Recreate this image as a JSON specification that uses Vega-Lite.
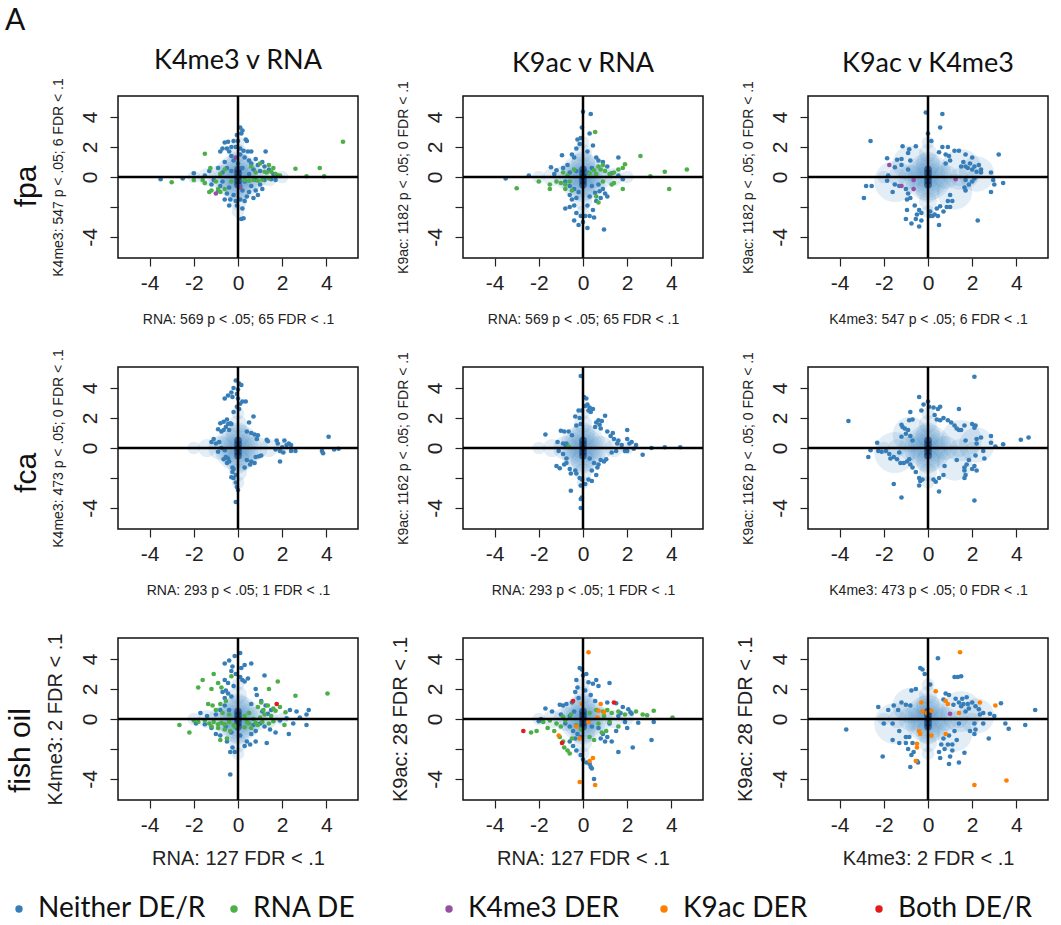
{
"$schema":"https://vega.github.io/schema/vega-lite/v6.json",
"background":"white",
"padding":{"left":5,"top":6,"right":4,"bottom":2},
"datasets":{
"cloud":[
{"x":0,"y":0,"s":1,"w":0},{"x":0,"y":0.25,"s":1,"w":0},{"x":0,"y":-0.25,"s":1,"w":0},{"x":0,"y":0.5,"s":1,"w":0},{"x":0,"y":-0.5,"s":1,"w":0},
{"x":0,"y":0,"s":2,"w":0},{"x":0,"y":0,"s":3,"w":0},{"x":0,"y":0,"s":4,"w":0},{"x":0,"y":0,"s":5,"w":0},{"x":0,"y":0,"s":6,"w":0},{"x":0,"y":0,"s":7,"w":0},{"x":0,"y":0,"s":8,"w":0},
{"x":0,"y":0.9,"s":4,"w":0},{"x":0,"y":-0.9,"s":4,"w":0},{"x":0,"y":1.6,"s":3,"w":0},{"x":0,"y":-1.6,"s":3,"w":0},{"x":0,"y":2.3,"s":2,"w":0},{"x":0,"y":-2.3,"s":2,"w":0},
{"x":0.8,"y":0,"s":4,"w":0},{"x":-0.8,"y":0,"s":4,"w":0},{"x":1.4,"y":0,"s":3,"w":0},{"x":-1.4,"y":0,"s":3,"w":0},{"x":2.0,"y":0,"s":2,"w":0},{"x":-2.0,"y":0,"s":2,"w":0},
{"x":1.5,"y":0.5,"s":7,"w":1},{"x":-1.5,"y":-0.3,"s":7,"w":1},{"x":1.2,"y":-1.0,"s":6,"w":1},{"x":-0.8,"y":0.9,"s":6,"w":1},{"x":2.2,"y":0.2,"s":6,"w":1}
],
"pts":[
{"p":1,"x":0.1,"y":3.3,"c":"N"},{"p":1,"x":0.2,"y":3.1,"c":"N"},{"p":1,"x":0.15,"y":2.9,"c":"N"},{"p":1,"x":-0.05,"y":2.8,"c":"N"},{"p":1,"x":0.35,"y":2.5,"c":"N"},{"p":1,"x":-0.6,"y":2.3,"c":"N"},{"p":1,"x":-0.45,"y":2.35,"c":"N"},{"p":1,"x":-0.2,"y":2.4,"c":"N"},{"p":1,"x":0.0,"y":2.4,"c":"N"},{"p":1,"x":0.4,"y":2.4,"c":"N"},
{"p":1,"x":-0.7,"y":1.9,"c":"N"},{"p":1,"x":-0.5,"y":1.9,"c":"N"},{"p":1,"x":-0.3,"y":2.0,"c":"N"},{"p":1,"x":-0.1,"y":2.0,"c":"N"},{"p":1,"x":0.1,"y":1.9,"c":"N"},{"p":1,"x":-0.8,"y":1.7,"c":"N"},{"p":1,"x":-0.4,"y":1.7,"c":"N"},{"p":1,"x":0.25,"y":1.75,"c":"N"},{"p":1,"x":0.45,"y":1.7,"c":"N"},{"p":1,"x":0.6,"y":1.7,"c":"N"},
{"p":1,"x":1.25,"y":1.7,"c":"N"},{"p":1,"x":-0.3,"y":1.4,"c":"N"},{"p":1,"x":0.1,"y":1.5,"c":"N"},{"p":1,"x":0.3,"y":1.3,"c":"N"},{"p":1,"x":0.5,"y":1.1,"c":"N"},{"p":1,"x":0.8,"y":1.2,"c":"N"},{"p":1,"x":1.1,"y":1.0,"c":"N"},{"p":1,"x":-0.6,"y":1.0,"c":"N"},{"p":1,"x":-0.2,"y":1.1,"c":"N"},{"p":1,"x":0.0,"y":0.9,"c":"N"},
{"p":1,"x":0.6,"y":0.9,"c":"N"},{"p":1,"x":0.9,"y":0.8,"c":"N"},{"p":1,"x":-0.9,"y":0.6,"c":"N"},{"p":1,"x":-0.5,"y":0.6,"c":"N"},{"p":1,"x":0.2,"y":0.6,"c":"N"},{"p":1,"x":0.7,"y":0.5,"c":"N"},{"p":1,"x":1.0,"y":0.4,"c":"N"},{"p":1,"x":1.4,"y":0.5,"c":"N"},{"p":1,"x":-1.3,"y":0.4,"c":"N"},{"p":1,"x":-0.7,"y":0.3,"c":"N"},
{"p":1,"x":1.6,"y":0.2,"c":"N"},{"p":1,"x":1.8,"y":0.1,"c":"N"},{"p":1,"x":-2.0,"y":0.25,"c":"N"},{"p":1,"x":-1.5,"y":0.1,"c":"N"},{"p":1,"x":-2.5,"y":-0.1,"c":"N"},{"p":1,"x":-3.5,"y":-0.15,"c":"N"},{"p":1,"x":-1.1,"y":-0.2,"c":"N"},{"p":1,"x":-0.7,"y":-0.3,"c":"N"},{"p":1,"x":0.3,"y":-0.3,"c":"N"},{"p":1,"x":0.8,"y":-0.2,"c":"N"},
{"p":1,"x":1.2,"y":-0.2,"c":"N"},{"p":1,"x":1.5,"y":-0.15,"c":"N"},{"p":1,"x":1.7,"y":-0.2,"c":"N"},{"p":1,"x":-1.2,"y":-0.5,"c":"N"},{"p":1,"x":-0.8,"y":-0.6,"c":"N"},{"p":1,"x":-0.4,"y":-0.7,"c":"N"},{"p":1,"x":0.1,"y":-0.6,"c":"N"},{"p":1,"x":0.6,"y":-0.6,"c":"N"},{"p":1,"x":1.0,"y":-0.5,"c":"N"},{"p":1,"x":-0.9,"y":-0.9,"c":"N"},
{"p":1,"x":-0.5,"y":-1.1,"c":"N"},{"p":1,"x":0.2,"y":-0.9,"c":"N"},{"p":1,"x":0.5,"y":-1.0,"c":"N"},{"p":1,"x":0.8,"y":-0.9,"c":"N"},{"p":1,"x":1.1,"y":-0.8,"c":"N"},{"p":1,"x":-0.2,"y":-1.2,"c":"N"},{"p":1,"x":0.4,"y":-1.3,"c":"N"},{"p":1,"x":0.9,"y":-1.2,"c":"N"},{"p":1,"x":-0.35,"y":-1.5,"c":"N"},{"p":1,"x":-0.1,"y":-1.6,"c":"N"},
{"p":1,"x":0.1,"y":-1.5,"c":"N"},{"p":1,"x":0.3,"y":-1.6,"c":"N"},{"p":1,"x":0.7,"y":-1.4,"c":"N"},{"p":1,"x":-0.4,"y":-1.9,"c":"N"},{"p":1,"x":-0.05,"y":-1.9,"c":"N"},{"p":1,"x":0.2,"y":-2.1,"c":"N"},{"p":1,"x":0.15,"y":-2.8,"c":"N"},{"p":1,"x":0.25,"y":-2.75,"c":"N"},{"p":1,"x":-0.6,"y":-1.5,"c":"N"},{"p":1,"x":1.2,"y":0.7,"c":"N"},
{"p":1,"x":0.5,"y":0.2,"c":"N"},{"p":1,"x":-0.3,"y":0.4,"c":"N"},
{"p":1,"x":4.75,"y":2.35,"c":"R"},{"p":1,"x":-1.5,"y":1.55,"c":"R"},{"p":1,"x":-1.25,"y":0.6,"c":"R"},{"p":1,"x":-0.6,"y":0.5,"c":"R"},{"p":1,"x":-0.8,"y":0.2,"c":"R"},{"p":1,"x":-1.0,"y":-0.3,"c":"R"},{"p":1,"x":-1.5,"y":-0.4,"c":"R"},{"p":1,"x":-2.0,"y":-0.2,"c":"R"},{"p":1,"x":-3.0,"y":-0.35,"c":"R"},{"p":1,"x":-1.6,"y":-0.2,"c":"R"},
{"p":1,"x":-1.2,"y":-0.9,"c":"R"},{"p":1,"x":-0.9,"y":-0.8,"c":"R"},{"p":1,"x":-0.6,"y":-0.8,"c":"R"},{"p":1,"x":-0.8,"y":-1.0,"c":"R"},{"p":1,"x":-1.3,"y":-1.0,"c":"R"},{"p":1,"x":-0.3,"y":-0.3,"c":"R"},{"p":1,"x":0.3,"y":-0.2,"c":"R"},{"p":1,"x":0.5,"y":-0.25,"c":"R"},{"p":1,"x":0.7,"y":-0.2,"c":"R"},{"p":1,"x":0.9,"y":-0.25,"c":"R"},
{"p":1,"x":1.1,"y":-0.2,"c":"R"},{"p":1,"x":1.3,"y":0.3,"c":"R"},{"p":1,"x":1.5,"y":0.35,"c":"R"},{"p":1,"x":1.6,"y":0.6,"c":"R"},{"p":1,"x":1.7,"y":0.2,"c":"R"},{"p":1,"x":1.9,"y":0.1,"c":"R"},{"p":1,"x":1.4,"y":0.8,"c":"R"},{"p":1,"x":1.0,"y":0.9,"c":"R"},{"p":1,"x":0.6,"y":0.7,"c":"R"},{"p":1,"x":2.6,"y":0.55,"c":"R"},
{"p":1,"x":3.1,"y":0.05,"c":"R"},{"p":1,"x":3.7,"y":0.6,"c":"R"},{"p":1,"x":3.9,"y":0.05,"c":"R"},{"p":1,"x":1.2,"y":0.35,"c":"R"},{"p":1,"x":0.8,"y":0.3,"c":"R"},{"p":1,"x":1.4,"y":-0.1,"c":"R"},
{"p":1,"x":-0.1,"y":1.3,"c":"K4"},{"p":1,"x":-1.0,"y":-1.1,"c":"K4"},{"p":1,"x":0.1,"y":-0.7,"c":"K4"},

{"p":2,"x":0.0,"y":4.35,"c":"N"},{"p":2,"x":0.35,"y":4.2,"c":"N"},{"p":2,"x":-0.05,"y":3.3,"c":"N"},{"p":2,"x":0.3,"y":2.9,"c":"N"},{"p":2,"x":-0.1,"y":2.6,"c":"N"},{"p":2,"x":-0.25,"y":2.5,"c":"N"},{"p":2,"x":-0.15,"y":2.2,"c":"N"},{"p":2,"x":0.45,"y":2.1,"c":"N"},{"p":2,"x":-0.3,"y":1.9,"c":"N"},{"p":2,"x":0.2,"y":1.7,"c":"N"},
{"p":2,"x":-0.5,"y":1.5,"c":"N"},{"p":2,"x":-0.4,"y":1.3,"c":"N"},{"p":2,"x":0.6,"y":1.3,"c":"N"},{"p":2,"x":1.6,"y":1.3,"c":"N"},{"p":2,"x":-0.95,"y":1.45,"c":"N"},{"p":2,"x":-1.45,"y":0.65,"c":"N"},{"p":2,"x":-1.2,"y":0.45,"c":"N"},{"p":2,"x":-0.9,"y":0.6,"c":"N"},{"p":2,"x":-0.7,"y":0.8,"c":"N"},{"p":2,"x":0.7,"y":1.1,"c":"N"},
{"p":2,"x":0.9,"y":1.0,"c":"N"},{"p":2,"x":1.1,"y":0.7,"c":"N"},{"p":2,"x":0.4,"y":0.6,"c":"N"},{"p":2,"x":-0.6,"y":0.3,"c":"N"},{"p":2,"x":-0.3,"y":0.4,"c":"N"},{"p":2,"x":0.2,"y":0.3,"c":"N"},{"p":2,"x":1.3,"y":0.25,"c":"N"},{"p":2,"x":1.6,"y":0.1,"c":"N"},{"p":2,"x":1.8,"y":-0.15,"c":"N"},{"p":2,"x":-2.45,"y":0.1,"c":"N"},
{"p":2,"x":-3.5,"y":-0.1,"c":"N"},{"p":2,"x":-1.3,"y":0.2,"c":"N"},{"p":2,"x":-0.8,"y":-0.3,"c":"N"},{"p":2,"x":-0.6,"y":-0.6,"c":"N"},{"p":2,"x":-0.4,"y":-0.8,"c":"N"},{"p":2,"x":-0.2,"y":-1.0,"c":"N"},{"p":2,"x":0.4,"y":-0.6,"c":"N"},{"p":2,"x":0.7,"y":-0.5,"c":"N"},{"p":2,"x":0.9,"y":-0.8,"c":"N"},{"p":2,"x":1.0,"y":-1.1,"c":"N"},
{"p":2,"x":1.1,"y":-1.3,"c":"N"},{"p":2,"x":0.8,"y":-1.4,"c":"N"},{"p":2,"x":0.6,"y":-1.6,"c":"N"},{"p":2,"x":0.3,"y":-1.3,"c":"N"},{"p":2,"x":-0.6,"y":-1.2,"c":"N"},{"p":2,"x":-0.5,"y":-1.5,"c":"N"},{"p":2,"x":-0.4,"y":-1.9,"c":"N"},{"p":2,"x":-0.6,"y":-2.0,"c":"N"},{"p":2,"x":-0.3,"y":-2.4,"c":"N"},{"p":2,"x":-0.1,"y":-2.6,"c":"N"},
{"p":2,"x":0.1,"y":-2.6,"c":"N"},{"p":2,"x":0.3,"y":-2.6,"c":"N"},{"p":2,"x":-0.4,"y":-2.9,"c":"N"},{"p":2,"x":-0.2,"y":-3.2,"c":"N"},{"p":2,"x":0.0,"y":-3.0,"c":"N"},{"p":2,"x":0.2,"y":-3.4,"c":"N"},{"p":2,"x":0.5,"y":-2.7,"c":"N"},{"p":2,"x":0.95,"y":-3.5,"c":"N"},{"p":2,"x":-0.8,"y":-2.1,"c":"N"},{"p":2,"x":0.2,"y":-1.9,"c":"N"},
{"p":2,"x":0.45,"y":-2.2,"c":"N"},{"p":2,"x":-0.3,"y":-1.4,"c":"N"},{"p":2,"x":0.55,"y":-1.05,"c":"N"},{"p":2,"x":0.75,"y":-0.95,"c":"N"},
{"p":2,"x":0.55,"y":3.0,"c":"R"},{"p":2,"x":2.6,"y":1.4,"c":"R"},{"p":2,"x":1.9,"y":0.85,"c":"R"},{"p":2,"x":1.8,"y":0.6,"c":"R"},{"p":2,"x":1.4,"y":0.3,"c":"R"},{"p":2,"x":1.2,"y":0.2,"c":"R"},{"p":2,"x":1.0,"y":0.4,"c":"R"},{"p":2,"x":0.8,"y":0.5,"c":"R"},{"p":2,"x":0.5,"y":0.45,"c":"R"},{"p":2,"x":0.6,"y":0.2,"c":"R"},
{"p":2,"x":0.3,"y":0.25,"c":"R"},{"p":2,"x":0.9,"y":0.8,"c":"R"},{"p":2,"x":0.7,"y":0.7,"c":"R"},{"p":2,"x":1.6,"y":0.5,"c":"R"},{"p":2,"x":3.05,"y":0.05,"c":"R"},{"p":2,"x":3.7,"y":0.35,"c":"R"},{"p":2,"x":4.7,"y":0.5,"c":"R"},{"p":2,"x":3.9,"y":-0.8,"c":"R"},{"p":2,"x":1.8,"y":-0.8,"c":"R"},{"p":2,"x":1.4,"y":-0.4,"c":"R"},
{"p":2,"x":1.3,"y":-0.5,"c":"R"},{"p":2,"x":0.9,"y":-0.3,"c":"R"},{"p":2,"x":0.6,"y":-1.3,"c":"R"},{"p":2,"x":0.7,"y":-1.7,"c":"R"},{"p":2,"x":-0.4,"y":0.5,"c":"R"},{"p":2,"x":-0.6,"y":-0.3,"c":"R"},{"p":2,"x":-0.8,"y":-0.5,"c":"R"},{"p":2,"x":-1.0,"y":-0.4,"c":"R"},{"p":2,"x":-1.2,"y":-0.3,"c":"R"},{"p":2,"x":-1.5,"y":-0.5,"c":"R"},
{"p":2,"x":-1.5,"y":-0.8,"c":"R"},{"p":2,"x":-2.0,"y":-0.3,"c":"R"},{"p":2,"x":-3.0,"y":-0.75,"c":"R"},{"p":2,"x":-0.8,"y":-0.8,"c":"R"},{"p":2,"x":-0.5,"y":-0.9,"c":"R"},{"p":2,"x":-0.9,"y":0.3,"c":"R"},{"p":2,"x":-0.7,"y":0.1,"c":"R"},

{"p":3,"x":-0.1,"y":4.3,"c":"N"},{"p":3,"x":0.65,"y":4.2,"c":"N"},{"p":3,"x":0.55,"y":3.3,"c":"N"},{"p":3,"x":0.0,"y":2.9,"c":"N"},{"p":3,"x":0.15,"y":2.4,"c":"N"},{"p":3,"x":-2.6,"y":2.4,"c":"N"},{"p":3,"x":-1.15,"y":2.05,"c":"N"},{"p":3,"x":-0.85,"y":1.85,"c":"N"},{"p":3,"x":-0.55,"y":2.05,"c":"N"},{"p":3,"x":-0.9,"y":1.6,"c":"N"},
{"p":3,"x":0.5,"y":1.65,"c":"N"},{"p":3,"x":0.65,"y":2.0,"c":"N"},{"p":3,"x":0.9,"y":2.0,"c":"N"},{"p":3,"x":0.8,"y":1.5,"c":"N"},{"p":3,"x":0.95,"y":1.4,"c":"N"},{"p":3,"x":1.2,"y":1.75,"c":"N"},{"p":3,"x":1.4,"y":1.75,"c":"N"},{"p":3,"x":1.7,"y":1.5,"c":"N"},{"p":3,"x":2.0,"y":1.3,"c":"N"},{"p":3,"x":3.2,"y":1.5,"c":"N"},
{"p":3,"x":-1.85,"y":1.25,"c":"N"},{"p":3,"x":-1.4,"y":1.15,"c":"N"},{"p":3,"x":-1.2,"y":1.2,"c":"N"},{"p":3,"x":-0.8,"y":1.1,"c":"N"},{"p":3,"x":-1.5,"y":0.65,"c":"N"},{"p":3,"x":-0.9,"y":0.5,"c":"N"},{"p":3,"x":-1.2,"y":0.8,"c":"N"},{"p":3,"x":1.0,"y":1.1,"c":"N"},{"p":3,"x":0.8,"y":0.9,"c":"N"},{"p":3,"x":1.6,"y":1.0,"c":"N"},
{"p":3,"x":1.9,"y":0.9,"c":"N"},{"p":3,"x":1.7,"y":0.7,"c":"N"},{"p":3,"x":1.8,"y":0.6,"c":"N"},{"p":3,"x":2.0,"y":0.5,"c":"N"},{"p":3,"x":2.3,"y":0.8,"c":"N"},{"p":3,"x":2.4,"y":0.5,"c":"N"},{"p":3,"x":2.2,"y":0.35,"c":"N"},{"p":3,"x":2.1,"y":0.7,"c":"N"},{"p":3,"x":2.4,"y":0.3,"c":"N"},{"p":3,"x":1.5,"y":0.7,"c":"N"},
{"p":3,"x":2.85,"y":0.3,"c":"N"},{"p":3,"x":2.95,"y":-0.2,"c":"N"},{"p":3,"x":3.0,"y":-0.5,"c":"N"},{"p":3,"x":3.4,"y":-0.4,"c":"N"},{"p":3,"x":2.85,"y":-1.0,"c":"N"},{"p":3,"x":1.7,"y":-0.2,"c":"N"},{"p":3,"x":2.0,"y":-0.3,"c":"N"},{"p":3,"x":2.1,"y":-0.1,"c":"N"},{"p":3,"x":1.85,"y":-0.5,"c":"N"},{"p":3,"x":1.7,"y":-0.9,"c":"N"},
{"p":3,"x":1.65,"y":-0.7,"c":"N"},{"p":3,"x":-1.85,"y":-0.25,"c":"N"},{"p":3,"x":-1.8,"y":0.1,"c":"N"},{"p":3,"x":-2.9,"y":-1.4,"c":"N"},{"p":3,"x":-2.8,"y":-0.6,"c":"N"},{"p":3,"x":-2.55,"y":-0.6,"c":"N"},{"p":3,"x":-1.6,"y":-1.0,"c":"N"},{"p":3,"x":-1.5,"y":-0.5,"c":"N"},{"p":3,"x":-1.3,"y":-0.6,"c":"N"},{"p":3,"x":-1.0,"y":-0.8,"c":"N"},
{"p":3,"x":-0.9,"y":-1.1,"c":"N"},{"p":3,"x":-0.8,"y":-1.4,"c":"N"},{"p":3,"x":-0.95,"y":-1.5,"c":"N"},{"p":3,"x":-0.6,"y":-1.9,"c":"N"},{"p":3,"x":-0.4,"y":-2.2,"c":"N"},{"p":3,"x":-0.5,"y":-2.5,"c":"N"},{"p":3,"x":-0.3,"y":-2.4,"c":"N"},{"p":3,"x":-0.55,"y":-2.8,"c":"N"},{"p":3,"x":-0.75,"y":-3.1,"c":"N"},{"p":3,"x":-0.4,"y":-3.3,"c":"N"},
{"p":3,"x":-1.0,"y":-2.8,"c":"N"},{"p":3,"x":-0.95,"y":-2.2,"c":"N"},{"p":3,"x":-0.3,"y":-2.9,"c":"N"},{"p":3,"x":0.1,"y":-2.3,"c":"N"},{"p":3,"x":0.2,"y":-2.6,"c":"N"},{"p":3,"x":0.3,"y":-2.5,"c":"N"},{"p":3,"x":0.45,"y":-2.6,"c":"N"},{"p":3,"x":0.4,"y":-2.1,"c":"N"},{"p":3,"x":0.55,"y":-1.95,"c":"N"},{"p":3,"x":0.7,"y":-2.3,"c":"N"},
{"p":3,"x":0.9,"y":-1.6,"c":"N"},{"p":3,"x":1.1,"y":-1.6,"c":"N"},{"p":3,"x":1.0,"y":-2.0,"c":"N"},{"p":3,"x":0.85,"y":-2.0,"c":"N"},{"p":3,"x":1.0,"y":-1.2,"c":"N"},{"p":3,"x":0.5,"y":-3.2,"c":"N"},{"p":3,"x":2.25,"y":-2.9,"c":"N"},{"p":3,"x":0.1,"y":-2.6,"c":"N"},
{"p":3,"x":-1.75,"y":0.8,"c":"K4"},{"p":3,"x":-0.65,"y":-0.2,"c":"K4"},{"p":3,"x":-1.2,"y":-0.6,"c":"K4"},{"p":3,"x":-0.65,"y":-0.8,"c":"K4"},{"p":3,"x":1.25,"y":-0.15,"c":"K4"},

{"p":4,"x":-0.1,"y":4.5,"c":"N"},{"p":4,"x":0.05,"y":4.3,"c":"N"},{"p":4,"x":0.15,"y":4.2,"c":"N"},{"p":4,"x":-0.2,"y":4.0,"c":"N"},{"p":4,"x":0.0,"y":3.9,"c":"N"},{"p":4,"x":-0.3,"y":3.7,"c":"N"},{"p":4,"x":-0.05,"y":3.6,"c":"N"},{"p":4,"x":-0.45,"y":3.5,"c":"N"},{"p":4,"x":-0.25,"y":3.4,"c":"N"},{"p":4,"x":0.0,"y":3.3,"c":"N"},
{"p":4,"x":0.35,"y":3.1,"c":"N"},{"p":4,"x":0.2,"y":3.1,"c":"N"},{"p":4,"x":-0.6,"y":3.3,"c":"N"},{"p":4,"x":0.1,"y":2.95,"c":"N"},{"p":4,"x":-0.05,"y":2.75,"c":"N"},{"p":4,"x":0.05,"y":2.6,"c":"N"},{"p":4,"x":-0.2,"y":2.4,"c":"N"},{"p":4,"x":0.7,"y":2.1,"c":"N"},{"p":4,"x":0.5,"y":1.7,"c":"N"},{"p":4,"x":-0.5,"y":1.9,"c":"N"},
{"p":4,"x":-0.35,"y":1.65,"c":"N"},{"p":4,"x":-0.65,"y":1.75,"c":"N"},{"p":4,"x":-0.45,"y":1.6,"c":"N"},{"p":4,"x":-0.8,"y":1.65,"c":"N"},{"p":4,"x":-0.3,"y":1.6,"c":"N"},{"p":4,"x":-0.55,"y":1.4,"c":"N"},{"p":4,"x":-0.75,"y":1.1,"c":"N"},{"p":4,"x":-0.65,"y":1.2,"c":"N"},{"p":4,"x":-0.9,"y":1.25,"c":"N"},{"p":4,"x":-0.4,"y":1.2,"c":"N"},
{"p":4,"x":0.4,"y":1.1,"c":"N"},{"p":4,"x":0.6,"y":1.0,"c":"N"},{"p":4,"x":0.75,"y":0.9,"c":"N"},{"p":4,"x":0.9,"y":0.85,"c":"N"},{"p":4,"x":1.3,"y":0.55,"c":"N"},{"p":4,"x":0.85,"y":0.6,"c":"N"},{"p":4,"x":-1.1,"y":0.6,"c":"N"},{"p":4,"x":-1.2,"y":0.4,"c":"N"},{"p":4,"x":-1.0,"y":0.3,"c":"N"},{"p":4,"x":-0.85,"y":0.4,"c":"N"},
{"p":4,"x":-0.75,"y":0.0,"c":"N"},{"p":4,"x":1.35,"y":0.45,"c":"N"},{"p":4,"x":1.75,"y":0.5,"c":"N"},{"p":4,"x":1.8,"y":0.3,"c":"N"},{"p":4,"x":2.1,"y":0.5,"c":"N"},{"p":4,"x":2.2,"y":0.2,"c":"N"},{"p":4,"x":2.3,"y":0.3,"c":"N"},{"p":4,"x":2.4,"y":0.2,"c":"N"},{"p":4,"x":2.0,"y":0.05,"c":"N"},{"p":4,"x":1.7,"y":-0.1,"c":"N"},
{"p":4,"x":1.9,"y":-0.2,"c":"N"},{"p":4,"x":2.05,"y":-0.3,"c":"N"},{"p":4,"x":2.6,"y":-0.2,"c":"N"},{"p":4,"x":2.4,"y":-0.2,"c":"N"},{"p":4,"x":3.8,"y":-0.2,"c":"N"},{"p":4,"x":3.85,"y":-0.35,"c":"N"},{"p":4,"x":4.1,"y":0.75,"c":"N"},{"p":4,"x":4.35,"y":-0.1,"c":"N"},{"p":4,"x":4.55,"y":-0.05,"c":"N"},{"p":4,"x":-0.9,"y":-0.25,"c":"N"},
{"p":4,"x":-0.6,"y":-0.15,"c":"N"},{"p":4,"x":-0.55,"y":-0.6,"c":"N"},{"p":4,"x":-0.45,"y":-0.7,"c":"N"},{"p":4,"x":-0.65,"y":-0.75,"c":"N"},{"p":4,"x":-0.4,"y":-0.9,"c":"N"},{"p":4,"x":-0.5,"y":-1.0,"c":"N"},{"p":4,"x":0.4,"y":-0.8,"c":"N"},{"p":4,"x":0.6,"y":-0.9,"c":"N"},{"p":4,"x":0.8,"y":-0.6,"c":"N"},{"p":4,"x":0.95,"y":-0.55,"c":"N"},
{"p":4,"x":1.05,"y":-0.5,"c":"N"},{"p":4,"x":0.75,"y":-1.0,"c":"N"},{"p":4,"x":0.3,"y":-1.3,"c":"N"},{"p":4,"x":0.55,"y":-1.1,"c":"N"},{"p":4,"x":1.9,"y":-0.9,"c":"N"},{"p":4,"x":-0.25,"y":-1.3,"c":"N"},{"p":4,"x":-0.25,"y":-1.6,"c":"N"},{"p":4,"x":-0.1,"y":-1.8,"c":"N"},{"p":4,"x":-0.2,"y":-2.0,"c":"N"},{"p":4,"x":-0.3,"y":-1.95,"c":"N"},
{"p":4,"x":-0.1,"y":-2.3,"c":"N"},{"p":4,"x":-0.05,"y":-2.6,"c":"N"},{"p":4,"x":0.0,"y":-2.8,"c":"N"},{"p":4,"x":-0.1,"y":-3.6,"c":"N"},{"p":4,"x":-0.2,"y":-1.4,"c":"N"},

{"p":5,"x":-0.1,"y":4.8,"c":"N"},{"p":5,"x":0.05,"y":3.4,"c":"N"},{"p":5,"x":0.15,"y":3.3,"c":"N"},{"p":5,"x":0.2,"y":2.9,"c":"N"},{"p":5,"x":0.1,"y":2.8,"c":"N"},{"p":5,"x":0.3,"y":2.7,"c":"N"},{"p":5,"x":0.45,"y":2.6,"c":"N"},{"p":5,"x":0.25,"y":2.5,"c":"N"},{"p":5,"x":0.35,"y":2.4,"c":"N"},{"p":5,"x":-0.2,"y":2.5,"c":"N"},
{"p":5,"x":-0.05,"y":2.5,"c":"N"},{"p":5,"x":-0.35,"y":2.1,"c":"N"},{"p":5,"x":-0.15,"y":2.0,"c":"N"},{"p":5,"x":0.7,"y":1.85,"c":"N"},{"p":5,"x":0.85,"y":1.8,"c":"N"},{"p":5,"x":0.6,"y":1.7,"c":"N"},{"p":5,"x":0.75,"y":1.55,"c":"N"},{"p":5,"x":1.0,"y":2.15,"c":"N"},{"p":5,"x":0.55,"y":1.4,"c":"N"},{"p":5,"x":0.8,"y":1.3,"c":"N"},
{"p":5,"x":-0.3,"y":1.5,"c":"N"},{"p":5,"x":-0.1,"y":1.6,"c":"N"},{"p":5,"x":1.1,"y":1.1,"c":"N"},{"p":5,"x":1.35,"y":1.0,"c":"N"},{"p":5,"x":1.25,"y":0.8,"c":"N"},{"p":5,"x":1.4,"y":0.6,"c":"N"},{"p":5,"x":1.55,"y":0.3,"c":"N"},{"p":5,"x":1.6,"y":0.5,"c":"N"},{"p":5,"x":1.75,"y":0.2,"c":"N"},{"p":5,"x":2.0,"y":1.2,"c":"N"},
{"p":5,"x":2.0,"y":0.6,"c":"N"},{"p":5,"x":2.2,"y":0.4,"c":"N"},{"p":5,"x":2.1,"y":0.3,"c":"N"},{"p":5,"x":2.4,"y":0.2,"c":"N"},{"p":5,"x":2.3,"y":-0.05,"c":"N"},{"p":5,"x":2.0,"y":-0.2,"c":"N"},{"p":5,"x":1.9,"y":-0.2,"c":"N"},{"p":5,"x":2.7,"y":-0.45,"c":"N"},{"p":5,"x":1.5,"y":-0.2,"c":"N"},{"p":5,"x":1.3,"y":-0.3,"c":"N"},
{"p":5,"x":3.1,"y":0.0,"c":"N"},{"p":5,"x":3.7,"y":0.05,"c":"N"},{"p":5,"x":4.4,"y":0.05,"c":"N"},{"p":5,"x":-1.7,"y":0.9,"c":"N"},{"p":5,"x":-1.0,"y":1.15,"c":"N"},{"p":5,"x":-0.85,"y":1.1,"c":"N"},{"p":5,"x":-0.65,"y":1.1,"c":"N"},{"p":5,"x":-0.5,"y":0.85,"c":"N"},{"p":5,"x":-1.15,"y":0.4,"c":"N"},{"p":5,"x":-0.9,"y":0.3,"c":"N"},
{"p":5,"x":-0.75,"y":0.3,"c":"N"},{"p":5,"x":-0.8,"y":0.2,"c":"N"},{"p":5,"x":-1.1,"y":-0.2,"c":"N"},{"p":5,"x":-0.9,"y":-0.4,"c":"N"},{"p":5,"x":-0.75,"y":-0.7,"c":"N"},{"p":5,"x":-1.2,"y":-1.2,"c":"N"},{"p":5,"x":-1.05,"y":-1.35,"c":"N"},{"p":5,"x":-0.85,"y":-1.1,"c":"N"},{"p":5,"x":-0.75,"y":-1.0,"c":"N"},{"p":5,"x":-0.6,"y":-1.4,"c":"N"},
{"p":5,"x":-0.55,"y":-1.7,"c":"N"},{"p":5,"x":-0.35,"y":-1.5,"c":"N"},{"p":5,"x":-0.3,"y":-1.7,"c":"N"},{"p":5,"x":-0.15,"y":-2.0,"c":"N"},{"p":5,"x":-0.05,"y":-2.1,"c":"N"},{"p":5,"x":-0.1,"y":-2.5,"c":"N"},{"p":5,"x":0.1,"y":-2.4,"c":"N"},{"p":5,"x":0.25,"y":-2.1,"c":"N"},{"p":5,"x":0.4,"y":-2.2,"c":"N"},{"p":5,"x":-0.55,"y":-2.85,"c":"N"},
{"p":5,"x":-0.05,"y":-3.3,"c":"N"},{"p":5,"x":-0.1,"y":-3.4,"c":"N"},{"p":5,"x":-0.1,"y":-4.0,"c":"N"},{"p":5,"x":0.5,"y":-1.0,"c":"N"},{"p":5,"x":0.7,"y":-1.1,"c":"N"},{"p":5,"x":0.95,"y":-0.9,"c":"N"},{"p":5,"x":0.8,"y":-0.8,"c":"N"},{"p":5,"x":1.05,"y":-0.75,"c":"N"},{"p":5,"x":0.65,"y":-1.3,"c":"N"},{"p":5,"x":0.6,"y":-1.8,"c":"N"},
{"p":5,"x":0.4,"y":-1.5,"c":"N"},{"p":5,"x":0.3,"y":-0.7,"c":"N"},
{"p":5,"x":-0.65,"y":0.1,"c":"R"},

{"p":6,"x":2.1,"y":4.75,"c":"N"},{"p":6,"x":-0.4,"y":3.4,"c":"N"},{"p":6,"x":-0.2,"y":2.9,"c":"N"},{"p":6,"x":0.0,"y":3.1,"c":"N"},{"p":6,"x":0.05,"y":2.75,"c":"N"},{"p":6,"x":0.25,"y":2.7,"c":"N"},{"p":6,"x":0.45,"y":2.6,"c":"N"},{"p":6,"x":0.55,"y":2.75,"c":"N"},{"p":6,"x":0.3,"y":2.2,"c":"N"},{"p":6,"x":0.4,"y":1.9,"c":"N"},
{"p":6,"x":0.7,"y":2.0,"c":"N"},{"p":6,"x":0.55,"y":1.85,"c":"N"},{"p":6,"x":-0.8,"y":2.4,"c":"N"},{"p":6,"x":-0.3,"y":2.5,"c":"N"},{"p":6,"x":1.4,"y":2.6,"c":"N"},{"p":6,"x":0.9,"y":1.85,"c":"N"},{"p":6,"x":1.05,"y":1.7,"c":"N"},{"p":6,"x":1.2,"y":1.5,"c":"N"},{"p":6,"x":1.3,"y":1.3,"c":"N"},{"p":6,"x":1.4,"y":1.2,"c":"N"},
{"p":6,"x":1.5,"y":1.2,"c":"N"},{"p":6,"x":1.65,"y":1.5,"c":"N"},{"p":6,"x":2.0,"y":1.6,"c":"N"},{"p":6,"x":2.15,"y":1.5,"c":"N"},{"p":6,"x":2.1,"y":1.35,"c":"N"},{"p":6,"x":1.7,"y":0.5,"c":"N"},{"p":6,"x":2.2,"y":0.6,"c":"N"},{"p":6,"x":2.2,"y":0.3,"c":"N"},{"p":6,"x":2.4,"y":0.7,"c":"N"},{"p":6,"x":2.85,"y":0.8,"c":"N"},
{"p":6,"x":2.85,"y":0.35,"c":"N"},{"p":6,"x":3.4,"y":0.25,"c":"N"},{"p":6,"x":3.05,"y":0.1,"c":"N"},{"p":6,"x":4.2,"y":0.55,"c":"N"},{"p":6,"x":4.55,"y":0.7,"c":"N"},{"p":6,"x":-3.6,"y":1.8,"c":"N"},{"p":6,"x":-1.2,"y":1.55,"c":"N"},{"p":6,"x":-1.15,"y":1.4,"c":"N"},{"p":6,"x":-1.05,"y":1.3,"c":"N"},{"p":6,"x":-0.9,"y":1.2,"c":"N"},
{"p":6,"x":-0.85,"y":1.85,"c":"N"},{"p":6,"x":-0.7,"y":1.9,"c":"N"},{"p":6,"x":-1.0,"y":0.95,"c":"N"},{"p":6,"x":-1.2,"y":0.75,"c":"N"},{"p":6,"x":-0.8,"y":0.8,"c":"N"},{"p":6,"x":-0.7,"y":0.5,"c":"N"},{"p":6,"x":-2.3,"y":0.35,"c":"N"},{"p":6,"x":-2.6,"y":-0.15,"c":"N"},{"p":6,"x":-2.7,"y":-0.6,"c":"N"},{"p":6,"x":-2.25,"y":-0.2,"c":"N"},
{"p":6,"x":-2.1,"y":-0.25,"c":"N"},{"p":6,"x":-1.9,"y":-0.2,"c":"N"},{"p":6,"x":-1.75,"y":-0.4,"c":"N"},{"p":6,"x":-1.7,"y":-0.7,"c":"N"},{"p":6,"x":-1.55,"y":-0.6,"c":"N"},{"p":6,"x":-1.4,"y":-0.75,"c":"N"},{"p":6,"x":-1.3,"y":-0.3,"c":"N"},{"p":6,"x":-1.25,"y":-1.0,"c":"N"},{"p":6,"x":-1.1,"y":-1.0,"c":"N"},{"p":6,"x":-0.95,"y":-0.9,"c":"N"},
{"p":6,"x":-0.85,"y":-0.75,"c":"N"},{"p":6,"x":-0.8,"y":-1.1,"c":"N"},{"p":6,"x":-0.7,"y":-1.3,"c":"N"},{"p":6,"x":-0.55,"y":-1.6,"c":"N"},{"p":6,"x":-0.4,"y":-2.0,"c":"N"},{"p":6,"x":-0.35,"y":-2.2,"c":"N"},{"p":6,"x":-0.25,"y":-2.1,"c":"N"},{"p":6,"x":-0.4,"y":-2.5,"c":"N"},{"p":6,"x":-1.55,"y":-2.4,"c":"N"},{"p":6,"x":-1.2,"y":-3.3,"c":"N"},
{"p":6,"x":0.25,"y":-2.1,"c":"N"},{"p":6,"x":0.35,"y":-2.25,"c":"N"},{"p":6,"x":0.5,"y":-2.0,"c":"N"},{"p":6,"x":0.7,"y":-1.8,"c":"N"},{"p":6,"x":0.5,"y":-2.9,"c":"N"},{"p":6,"x":0.75,"y":-1.2,"c":"N"},{"p":6,"x":1.3,"y":-0.8,"c":"N"},{"p":6,"x":1.65,"y":-1.3,"c":"N"},{"p":6,"x":1.65,"y":-1.5,"c":"N"},{"p":6,"x":1.7,"y":-1.8,"c":"N"},
{"p":6,"x":1.65,"y":-2.0,"c":"N"},{"p":6,"x":1.85,"y":-0.8,"c":"N"},{"p":6,"x":2.0,"y":-1.4,"c":"N"},{"p":6,"x":2.1,"y":-1.2,"c":"N"},{"p":6,"x":2.2,"y":-1.5,"c":"N"},{"p":6,"x":2.15,"y":-0.5,"c":"N"},{"p":6,"x":2.5,"y":-0.2,"c":"N"},{"p":6,"x":2.55,"y":-0.7,"c":"N"},{"p":6,"x":2.1,"y":-3.5,"c":"N"},{"p":6,"x":1.75,"y":-1.1,"c":"N"},

{"p":7,"x":0.1,"y":4.4,"c":"N"},{"p":7,"x":-0.15,"y":4.2,"c":"N"},{"p":7,"x":-0.4,"y":3.9,"c":"N"},{"p":7,"x":-0.6,"y":3.7,"c":"N"},{"p":7,"x":-0.25,"y":3.5,"c":"N"},{"p":7,"x":0.15,"y":3.4,"c":"N"},{"p":7,"x":0.3,"y":3.6,"c":"N"},{"p":7,"x":0.6,"y":3.7,"c":"N"},{"p":7,"x":-0.3,"y":3.2,"c":"N"},{"p":7,"x":-0.1,"y":3.0,"c":"N"},
{"p":7,"x":0.1,"y":2.8,"c":"N"},{"p":7,"x":0.2,"y":2.6,"c":"N"},{"p":7,"x":0.3,"y":2.5,"c":"N"},{"p":7,"x":0.45,"y":2.7,"c":"N"},{"p":7,"x":-0.6,"y":2.6,"c":"N"},{"p":7,"x":-0.45,"y":2.4,"c":"N"},{"p":7,"x":-0.2,"y":2.2,"c":"N"},{"p":7,"x":-0.55,"y":1.9,"c":"N"},{"p":7,"x":-0.7,"y":1.8,"c":"N"},{"p":7,"x":-0.45,"y":1.7,"c":"N"},
{"p":7,"x":-0.3,"y":1.5,"c":"N"},{"p":7,"x":-0.6,"y":1.4,"c":"N"},{"p":7,"x":1.2,"y":2.9,"c":"N"},{"p":7,"x":0.8,"y":2.0,"c":"N"},{"p":7,"x":0.85,"y":1.6,"c":"N"},{"p":7,"x":1.05,"y":1.2,"c":"N"},{"p":7,"x":1.25,"y":0.9,"c":"N"},{"p":7,"x":1.5,"y":0.6,"c":"N"},{"p":7,"x":1.1,"y":0.5,"c":"N"},{"p":7,"x":1.35,"y":0.35,"c":"N"},
{"p":7,"x":-1.7,"y":0.4,"c":"N"},{"p":7,"x":-1.4,"y":0.2,"c":"N"},{"p":7,"x":-1.0,"y":0.3,"c":"N"},{"p":7,"x":-0.8,"y":0.6,"c":"N"},{"p":7,"x":-0.6,"y":0.9,"c":"N"},{"p":7,"x":-0.4,"y":0.6,"c":"N"},{"p":7,"x":2.35,"y":0.6,"c":"N"},{"p":7,"x":2.65,"y":0.5,"c":"N"},{"p":7,"x":3.2,"y":0.6,"c":"N"},{"p":7,"x":3.1,"y":0.3,"c":"N"},
{"p":7,"x":2.8,"y":0.1,"c":"N"},{"p":7,"x":2.2,"y":0.05,"c":"N"},{"p":7,"x":1.9,"y":-0.1,"c":"N"},{"p":7,"x":2.5,"y":-0.3,"c":"N"},{"p":7,"x":3.1,"y":-0.4,"c":"N"},{"p":7,"x":2.3,"y":-1.0,"c":"N"},{"p":7,"x":1.7,"y":-0.9,"c":"N"},{"p":7,"x":1.45,"y":-0.7,"c":"N"},{"p":7,"x":1.2,"y":-0.5,"c":"N"},{"p":7,"x":1.0,"y":-0.3,"c":"N"},
{"p":7,"x":0.8,"y":-0.8,"c":"N"},{"p":7,"x":0.6,"y":-1.0,"c":"N"},{"p":7,"x":0.4,"y":-1.5,"c":"N"},{"p":7,"x":0.55,"y":-1.7,"c":"N"},{"p":7,"x":0.3,"y":-1.8,"c":"N"},{"p":7,"x":0.8,"y":-1.5,"c":"N"},{"p":7,"x":1.3,"y":-1.6,"c":"N"},{"p":7,"x":-1.9,"y":-0.3,"c":"N"},{"p":7,"x":-1.5,"y":-0.35,"c":"N"},{"p":7,"x":-1.2,"y":-0.6,"c":"N"},
{"p":7,"x":-1.0,"y":-1.0,"c":"N"},{"p":7,"x":-0.8,"y":-1.1,"c":"N"},{"p":7,"x":-0.55,"y":-0.5,"c":"N"},{"p":7,"x":-0.3,"y":-0.9,"c":"N"},{"p":7,"x":-0.5,"y":-1.5,"c":"N"},{"p":7,"x":-0.25,"y":-1.9,"c":"N"},{"p":7,"x":-0.35,"y":-2.2,"c":"N"},{"p":7,"x":-0.15,"y":-2.2,"c":"N"},{"p":7,"x":-0.35,"y":-3.7,"c":"N"},{"p":7,"x":0.1,"y":-1.1,"c":"N"},
{"p":7,"x":-0.1,"y":-0.5,"c":"N"},{"p":7,"x":0.7,"y":-0.4,"c":"N"},{"p":7,"x":0.6,"y":1.0,"c":"N"},
{"p":7,"x":-1.1,"y":3.0,"c":"R"},{"p":7,"x":-1.6,"y":2.6,"c":"R"},{"p":7,"x":-1.8,"y":2.1,"c":"R"},{"p":7,"x":-0.9,"y":2.4,"c":"R"},{"p":7,"x":-0.75,"y":2.1,"c":"R"},{"p":7,"x":-0.3,"y":2.85,"c":"R"},{"p":7,"x":1.4,"y":2.0,"c":"R"},{"p":7,"x":1.8,"y":2.5,"c":"R"},{"p":7,"x":2.6,"y":1.55,"c":"R"},{"p":7,"x":4.05,"y":1.7,"c":"R"},
{"p":7,"x":-1.2,"y":2.0,"c":"R"},{"p":7,"x":-1.35,"y":1.0,"c":"R"},{"p":7,"x":-1.15,"y":0.9,"c":"R"},{"p":7,"x":-0.8,"y":1.0,"c":"R"},{"p":7,"x":-0.55,"y":1.2,"c":"R"},{"p":7,"x":-1.0,"y":0.6,"c":"R"},{"p":7,"x":-0.7,"y":0.4,"c":"R"},{"p":7,"x":-0.4,"y":0.3,"c":"R"},{"p":7,"x":0.3,"y":0.2,"c":"R"},{"p":7,"x":0.5,"y":0.4,"c":"R"},
{"p":7,"x":0.9,"y":0.8,"c":"R"},{"p":7,"x":1.15,"y":0.6,"c":"R"},{"p":7,"x":1.35,"y":0.9,"c":"R"},{"p":7,"x":1.6,"y":0.7,"c":"R"},{"p":7,"x":1.7,"y":0.55,"c":"R"},{"p":7,"x":1.9,"y":0.8,"c":"R"},{"p":7,"x":2.15,"y":0.45,"c":"R"},{"p":7,"x":1.5,"y":0.2,"c":"R"},{"p":7,"x":1.0,"y":0.1,"c":"R"},{"p":7,"x":0.7,"y":0.0,"c":"R"},
{"p":7,"x":0.5,"y":-0.3,"c":"R"},{"p":7,"x":0.8,"y":-0.25,"c":"R"},{"p":7,"x":1.1,"y":-0.2,"c":"R"},{"p":7,"x":1.4,"y":-0.3,"c":"R"},{"p":7,"x":1.6,"y":-0.15,"c":"R"},{"p":7,"x":2.1,"y":-0.4,"c":"R"},{"p":7,"x":-2.65,"y":-0.4,"c":"R"},{"p":7,"x":-2.2,"y":-0.9,"c":"R"},{"p":7,"x":-2.0,"y":-0.1,"c":"R"},{"p":7,"x":-1.8,"y":-0.2,"c":"R"},
{"p":7,"x":-1.5,"y":-0.1,"c":"R"},{"p":7,"x":-1.3,"y":-0.3,"c":"R"},{"p":7,"x":-1.1,"y":-0.2,"c":"R"},{"p":7,"x":-0.9,"y":-0.35,"c":"R"},{"p":7,"x":-0.75,"y":-0.25,"c":"R"},{"p":7,"x":-0.6,"y":-0.35,"c":"R"},{"p":7,"x":-0.4,"y":-0.2,"c":"R"},{"p":7,"x":-0.2,"y":-0.4,"c":"R"},{"p":7,"x":-1.2,"y":-0.5,"c":"R"},{"p":7,"x":-0.9,"y":-0.6,"c":"R"},
{"p":7,"x":-0.6,"y":-0.7,"c":"R"},{"p":7,"x":-0.5,"y":-1.3,"c":"R"},{"p":7,"x":-0.35,"y":-0.8,"c":"R"},{"p":7,"x":-0.15,"y":-0.5,"c":"R"},{"p":7,"x":0.3,"y":-0.55,"c":"R"},{"p":7,"x":0.4,"y":-0.2,"c":"R"},{"p":7,"x":0.9,"y":-0.4,"c":"R"},{"p":7,"x":-0.8,"y":-1.4,"c":"R"},{"p":7,"x":0.6,"y":-0.6,"c":"R"},{"p":7,"x":1.2,"y":0.3,"c":"R"},
{"p":7,"x":1.05,"y":1.1,"c":"R"},
{"p":7,"x":1.75,"y":1.0,"c":"B"},

{"p":8,"x":-0.15,"y":3.4,"c":"N"},{"p":8,"x":-0.05,"y":3.3,"c":"N"},{"p":8,"x":0.0,"y":2.9,"c":"N"},{"p":8,"x":0.15,"y":3.0,"c":"N"},{"p":8,"x":-0.3,"y":2.6,"c":"N"},{"p":8,"x":0.6,"y":2.6,"c":"N"},{"p":8,"x":0.25,"y":2.45,"c":"N"},{"p":8,"x":0.45,"y":2.35,"c":"N"},{"p":8,"x":0.7,"y":2.2,"c":"N"},{"p":8,"x":-0.25,"y":2.1,"c":"N"},
{"p":8,"x":1.2,"y":2.4,"c":"N"},{"p":8,"x":-0.35,"y":1.8,"c":"N"},{"p":8,"x":0.1,"y":1.9,"c":"N"},{"p":8,"x":0.35,"y":1.6,"c":"N"},{"p":8,"x":-0.2,"y":1.4,"c":"N"},{"p":8,"x":0.55,"y":1.2,"c":"N"},{"p":8,"x":1.1,"y":1.1,"c":"N"},{"p":8,"x":1.5,"y":1.05,"c":"N"},{"p":8,"x":-0.5,"y":1.1,"c":"N"},{"p":8,"x":-0.75,"y":1.0,"c":"N"},
{"p":8,"x":-0.9,"y":0.9,"c":"N"},{"p":8,"x":-1.05,"y":0.95,"c":"N"},{"p":8,"x":1.8,"y":0.8,"c":"N"},{"p":8,"x":2.05,"y":0.65,"c":"N"},{"p":8,"x":2.15,"y":0.45,"c":"N"},{"p":8,"x":1.7,"y":0.4,"c":"N"},{"p":8,"x":2.5,"y":-0.25,"c":"N"},{"p":8,"x":3.2,"y":-0.2,"c":"N"},{"p":8,"x":1.9,"y":-0.2,"c":"N"},{"p":8,"x":1.6,"y":0.2,"c":"N"},
{"p":8,"x":2.2,"y":0.35,"c":"N"},{"p":8,"x":2.0,"y":-0.6,"c":"N"},{"p":8,"x":-1.7,"y":0.7,"c":"N"},{"p":8,"x":-1.4,"y":0.5,"c":"N"},{"p":8,"x":-1.0,"y":0.3,"c":"N"},{"p":8,"x":-0.6,"y":0.2,"c":"N"},{"p":8,"x":-0.4,"y":0.5,"c":"N"},{"p":8,"x":-1.9,"y":0.0,"c":"N"},{"p":8,"x":-2.0,"y":-0.15,"c":"N"},{"p":8,"x":-0.8,"y":-0.3,"c":"N"},
{"p":8,"x":-0.6,"y":-0.5,"c":"N"},{"p":8,"x":-0.45,"y":-0.8,"c":"N"},{"p":8,"x":-0.25,"y":-1.0,"c":"N"},{"p":8,"x":-0.1,"y":-1.2,"c":"N"},{"p":8,"x":-0.35,"y":-1.3,"c":"N"},{"p":8,"x":-0.6,"y":-1.5,"c":"N"},{"p":8,"x":-0.45,"y":-1.8,"c":"N"},{"p":8,"x":-0.3,"y":-2.1,"c":"N"},{"p":8,"x":-0.1,"y":-2.4,"c":"N"},{"p":8,"x":0.0,"y":-2.7,"c":"N"},
{"p":8,"x":0.15,"y":-2.9,"c":"N"},{"p":8,"x":0.3,"y":-3.0,"c":"N"},{"p":8,"x":0.35,"y":-3.2,"c":"N"},{"p":8,"x":0.5,"y":-4.0,"c":"N"},{"p":8,"x":0.4,"y":-3.3,"c":"N"},{"p":8,"x":0.9,"y":-1.0,"c":"N"},{"p":8,"x":1.1,"y":-1.2,"c":"N"},{"p":8,"x":1.3,"y":-1.5,"c":"N"},{"p":8,"x":1.0,"y":-1.5,"c":"N"},{"p":8,"x":0.8,"y":-1.3,"c":"N"},
{"p":8,"x":1.5,"y":-0.8,"c":"N"},{"p":8,"x":1.6,"y":-2.2,"c":"N"},{"p":8,"x":2.25,"y":-1.9,"c":"N"},{"p":8,"x":3.1,"y":-1.4,"c":"N"},{"p":8,"x":0.7,"y":-0.6,"c":"N"},{"p":8,"x":0.4,"y":-0.5,"c":"N"},{"p":8,"x":1.2,"y":-0.3,"c":"N"},
{"p":8,"x":-1.8,"y":-0.2,"c":"R"},{"p":8,"x":-1.5,"y":-0.1,"c":"R"},{"p":8,"x":-2.1,"y":-0.8,"c":"R"},{"p":8,"x":-2.35,"y":-0.9,"c":"R"},{"p":8,"x":-1.6,"y":-0.6,"c":"R"},{"p":8,"x":-1.2,"y":-0.3,"c":"R"},{"p":8,"x":-1.0,"y":-0.5,"c":"R"},{"p":8,"x":-0.8,"y":-0.1,"c":"R"},{"p":8,"x":-1.3,"y":-0.8,"c":"R"},{"p":8,"x":-1.05,"y":-1.2,"c":"R"},
{"p":8,"x":-0.9,"y":-1.5,"c":"R"},{"p":8,"x":-0.85,"y":-1.9,"c":"R"},{"p":8,"x":-0.7,"y":-2.1,"c":"R"},{"p":8,"x":-0.6,"y":-2.3,"c":"R"},{"p":8,"x":-0.5,"y":-1.3,"c":"R"},{"p":8,"x":-0.3,"y":-0.4,"c":"R"},{"p":8,"x":0.3,"y":0.4,"c":"R"},{"p":8,"x":0.6,"y":0.6,"c":"R"},{"p":8,"x":0.9,"y":0.5,"c":"R"},{"p":8,"x":1.1,"y":0.6,"c":"R"},
{"p":8,"x":1.3,"y":0.4,"c":"R"},{"p":8,"x":1.6,"y":0.5,"c":"R"},{"p":8,"x":1.9,"y":0.3,"c":"R"},{"p":8,"x":2.4,"y":0.5,"c":"R"},{"p":8,"x":2.7,"y":0.3,"c":"R"},{"p":8,"x":2.9,"y":0.25,"c":"R"},{"p":8,"x":3.2,"y":0.55,"c":"R"},{"p":8,"x":4.05,"y":0.1,"c":"R"},{"p":8,"x":0.7,"y":-0.3,"c":"R"},{"p":8,"x":0.85,"y":-0.9,"c":"R"},
{"p":8,"x":1.05,"y":-0.8,"c":"R"},{"p":8,"x":0.5,"y":-1.4,"c":"R"},{"p":8,"x":0.3,"y":-1.2,"c":"R"},{"p":8,"x":1.2,"y":-0.2,"c":"R"},{"p":8,"x":1.6,"y":-0.5,"c":"R"},{"p":8,"x":0.95,"y":0.2,"c":"R"},{"p":8,"x":-0.1,"y":-0.7,"c":"R"},{"p":8,"x":-0.55,"y":0.3,"c":"R"},{"p":8,"x":-0.9,"y":0.15,"c":"R"},
{"p":8,"x":0.25,"y":4.45,"c":"K9"},{"p":8,"x":-0.15,"y":-4.2,"c":"K9"},{"p":8,"x":0.55,"y":-4.4,"c":"K9"},{"p":8,"x":0.3,"y":-2.8,"c":"K9"},{"p":8,"x":0.7,"y":0.55,"c":"K9"},{"p":8,"x":0.95,"y":0.45,"c":"K9"},{"p":8,"x":0.8,"y":1.0,"c":"K9"},{"p":8,"x":0.65,"y":0.1,"c":"K9"},{"p":8,"x":0.25,"y":-0.2,"c":"K9"},{"p":8,"x":-0.05,"y":1.0,"c":"K9"},
{"p":8,"x":-0.3,"y":-0.5,"c":"K9"},{"p":8,"x":-1.1,"y":-1.1,"c":"K9"},{"p":8,"x":0.45,"y":-2.6,"c":"K9"},{"p":8,"x":-0.15,"y":-1.3,"c":"K9"},
{"p":8,"x":-2.7,"y":-0.8,"c":"B"},{"p":8,"x":-0.45,"y":1.2,"c":"B"},{"p":8,"x":1.4,"y":1.1,"c":"B"},{"p":8,"x":-0.95,"y":-1.6,"c":"B"},

{"p":9,"x":0.45,"y":4.05,"c":"N"},{"p":9,"x":-0.35,"y":3.4,"c":"N"},{"p":9,"x":-0.25,"y":3.3,"c":"N"},{"p":9,"x":-0.15,"y":3.0,"c":"N"},{"p":9,"x":1.2,"y":2.8,"c":"N"},{"p":9,"x":1.35,"y":2.8,"c":"N"},{"p":9,"x":1.5,"y":2.85,"c":"N"},{"p":9,"x":0.1,"y":2.3,"c":"N"},{"p":9,"x":-0.55,"y":2.0,"c":"N"},{"p":9,"x":-0.75,"y":1.9,"c":"N"},
{"p":9,"x":0.8,"y":1.7,"c":"N"},{"p":9,"x":0.95,"y":1.6,"c":"N"},{"p":9,"x":1.25,"y":1.35,"c":"N"},{"p":9,"x":1.55,"y":1.35,"c":"N"},{"p":9,"x":1.75,"y":1.45,"c":"N"},{"p":9,"x":1.4,"y":1.1,"c":"N"},{"p":9,"x":1.6,"y":1.0,"c":"N"},{"p":9,"x":1.8,"y":1.0,"c":"N"},{"p":9,"x":2.0,"y":1.1,"c":"N"},{"p":9,"x":2.15,"y":0.85,"c":"N"},
{"p":9,"x":1.5,"y":0.85,"c":"N"},{"p":9,"x":1.85,"y":0.7,"c":"N"},{"p":9,"x":2.3,"y":0.65,"c":"N"},{"p":9,"x":2.5,"y":0.4,"c":"N"},{"p":9,"x":2.8,"y":0.35,"c":"N"},{"p":9,"x":3.3,"y":1.05,"c":"N"},{"p":9,"x":3.0,"y":0.2,"c":"N"},{"p":9,"x":2.35,"y":0.3,"c":"N"},{"p":9,"x":1.7,"y":0.5,"c":"N"},{"p":9,"x":1.15,"y":0.95,"c":"N"},
{"p":9,"x":0.7,"y":1.3,"c":"N"},{"p":9,"x":4.85,"y":0.6,"c":"N"},{"p":9,"x":4.4,"y":-0.4,"c":"N"},{"p":9,"x":3.5,"y":-0.3,"c":"N"},{"p":9,"x":3.65,"y":-0.65,"c":"N"},{"p":9,"x":2.1,"y":-0.3,"c":"N"},{"p":9,"x":2.5,"y":-0.3,"c":"N"},{"p":9,"x":2.15,"y":-0.7,"c":"N"},{"p":9,"x":1.9,"y":-0.8,"c":"N"},{"p":9,"x":2.1,"y":-1.0,"c":"N"},
{"p":9,"x":2.75,"y":-1.3,"c":"N"},{"p":9,"x":1.4,"y":-0.3,"c":"N"},{"p":9,"x":1.2,"y":-0.8,"c":"N"},{"p":9,"x":0.95,"y":-1.1,"c":"N"},{"p":9,"x":0.7,"y":-1.3,"c":"N"},{"p":9,"x":0.9,"y":-1.7,"c":"N"},{"p":9,"x":1.1,"y":-1.7,"c":"N"},{"p":9,"x":1.3,"y":-1.4,"c":"N"},{"p":9,"x":0.6,"y":-1.7,"c":"N"},{"p":9,"x":0.75,"y":-2.0,"c":"N"},
{"p":9,"x":0.5,"y":-2.2,"c":"N"},{"p":9,"x":0.55,"y":-2.6,"c":"N"},{"p":9,"x":1.0,"y":-2.5,"c":"N"},{"p":9,"x":1.1,"y":-2.1,"c":"N"},{"p":9,"x":1.65,"y":-2.25,"c":"N"},{"p":9,"x":1.4,"y":-2.9,"c":"N"},{"p":9,"x":0.95,"y":-3.0,"c":"N"},{"p":9,"x":-1.2,"y":1.1,"c":"N"},{"p":9,"x":-1.0,"y":0.95,"c":"N"},{"p":9,"x":-0.8,"y":0.9,"c":"N"},
{"p":9,"x":-1.35,"y":0.6,"c":"N"},{"p":9,"x":-1.55,"y":0.9,"c":"N"},{"p":9,"x":-1.8,"y":0.6,"c":"N"},{"p":9,"x":-2.25,"y":0.8,"c":"N"},{"p":9,"x":-3.7,"y":-0.7,"c":"N"},{"p":9,"x":-2.0,"y":-0.3,"c":"N"},{"p":9,"x":-1.6,"y":-0.3,"c":"N"},{"p":9,"x":-1.3,"y":-0.8,"c":"N"},{"p":9,"x":-1.6,"y":-1.4,"c":"N"},{"p":9,"x":-1.0,"y":-1.2,"c":"N"},
{"p":9,"x":-0.85,"y":-1.2,"c":"N"},{"p":9,"x":-1.0,"y":-1.6,"c":"N"},{"p":9,"x":-0.7,"y":-1.6,"c":"N"},{"p":9,"x":-0.9,"y":-2.0,"c":"N"},{"p":9,"x":-0.65,"y":-2.2,"c":"N"},{"p":9,"x":-0.75,"y":-2.4,"c":"N"},{"p":9,"x":-0.5,"y":-2.8,"c":"N"},{"p":9,"x":-0.45,"y":-2.9,"c":"N"},{"p":9,"x":-0.8,"y":-3.2,"c":"N"},{"p":9,"x":-2.05,"y":-2.5,"c":"N"},
{"p":9,"x":-1.3,"y":-1.6,"c":"N"},
{"p":9,"x":1.45,"y":4.45,"c":"K9"},{"p":9,"x":-0.3,"y":1.1,"c":"K9"},{"p":9,"x":-0.25,"y":0.5,"c":"K9"},{"p":9,"x":-0.05,"y":0.4,"c":"K9"},{"p":9,"x":0.15,"y":0.55,"c":"K9"},{"p":9,"x":0.35,"y":1.85,"c":"K9"},{"p":9,"x":0.8,"y":1.2,"c":"K9"},{"p":9,"x":0.9,"y":1.0,"c":"K9"},{"p":9,"x":1.4,"y":0.4,"c":"K9"},{"p":9,"x":2.35,"y":1.1,"c":"K9"},
{"p":9,"x":3.05,"y":0.9,"c":"K9"},{"p":9,"x":-0.4,"y":-0.8,"c":"K9"},{"p":9,"x":-0.35,"y":-1.0,"c":"K9"},{"p":9,"x":-0.5,"y":-1.65,"c":"K9"},{"p":9,"x":-0.5,"y":-1.9,"c":"K9"},{"p":9,"x":-0.55,"y":-2.8,"c":"K9"},{"p":9,"x":0.15,"y":-1.1,"c":"K9"},{"p":9,"x":0.8,"y":-1.0,"c":"K9"},{"p":9,"x":2.1,"y":-4.4,"c":"K9"},{"p":9,"x":3.55,"y":-4.1,"c":"K9"},
{"p":9,"x":1.0,"y":0.35,"c":"K4"}
]
},
"title":{"text":"A","anchor":"start","fontSize":30,"font":"Lato","fontWeight":"normal","color":"#111","offset":10},
"bounds":"flush",
"spacing":271,
"vconcat":[
{"bounds":"flush","spacing":105,
 "title":{"text":"fpa","orient":"left","fontSize":30,"font":"Liberation Sans","fontWeight":"normal","color":"#111","offset":8,"anchor":"middle"},
 "hconcat":[
 {"width":240,"height":162,"title":{"text":"K4me3 v RNA","fontSize":27,"font":"Lato","fontWeight":"normal","color":"#111","offset":3},
  "layer":[
  {"encoding":{
    "x":{"field":"x","type":"quantitative","scale":{"domain":[-5.43,5.43],"nice":false,"zero":false},"axis":{"title":"RNA: 569 p < .05; 65 FDR < .1","titleFontSize":14,"values":[-4,-2,0,2,4],"labelExpr":"datum.value<0?'-'+(-datum.value):''+datum.value"}},
    "y":{"field":"y","type":"quantitative","scale":{"domain":[-5.4,5.4],"nice":false,"zero":false},"axis":{"title":"K4me3: 547 p < .05; 6 FDR < .1","titleFontSize":14,"values":[-4,-2,0,2,4],"labelExpr":"datum.value==-2?'':datum.value<0?'-'+(-datum.value):''+datum.value"}}},
   "layer":[
    {"data":{"name":"cloud"},"transform":[{"filter":"datum.s>1 && datum.w==0"}],"mark":{"type":"circle","color":"#3f88c5","opacity":0.15,"clip":true},"encoding":{"size":{"field":"s","type":"quantitative","scale":{"type":"pow","exponent":2,"domain":[1,8],"range":[60,2200]},"legend":null}}},
    {"data":{"name":"cloud"},"transform":[{"filter":"datum.s==1"}],"mark":{"type":"circle","color":"#08306b","opacity":0.55},"encoding":{"size":{"field":"s","type":"quantitative","scale":{"type":"pow","exponent":2,"domain":[1,8],"range":[60,2200]},"legend":null}}},
    {"data":{"name":"pts"},"transform":[{"filter":"datum.p==1"}],"mark":{"type":"circle","size":22,"opacity":1},"encoding":{"color":{"field":"c","type":"nominal","scale":{"domain":["N","R","K4","K9","B"],"range":["#377EB8","#4DAF4A","#984EA3","#FF7F00","#E41A1C"]},"legend":{"orient":"none","legendX":-113,"legendY":799,"direction":"horizontal","columns":5,"title":null,"gridAlign":"all","columnPadding":14,"symbolType":"circle","symbolSize":55,"symbolStrokeWidth":0,"labelFont":"Lato","labelFontSize":28,"labelColor":"#111","labelOffset":5,"labelLimit":400,"labelExpr":"datum.label=='N'?'Neither DE/R':datum.label=='R'?'RNA DE':datum.label=='K4'?'K4me3 DER':datum.label=='K9'?'K9ac DER':'Both DE/R'"}}}}
   ]},
  {"data":{"values":[{}]},"mark":{"type":"rule","color":"#000","strokeWidth":2.5},"encoding":{"x":{"datum":0}}},
  {"data":{"values":[{}]},"mark":{"type":"rule","color":"#000","strokeWidth":2.5},"encoding":{"y":{"datum":0}}}
  ]},
 {"width":240,"height":162,"title":{"text":"K9ac v RNA","fontSize":27,"font":"Lato","fontWeight":"normal","color":"#111","offset":3},
  "layer":[
  {"encoding":{
    "x":{"field":"x","type":"quantitative","scale":{"domain":[-5.43,5.43],"nice":false,"zero":false},"axis":{"title":"RNA: 569 p < .05; 65 FDR < .1","titleFontSize":14,"values":[-4,-2,0,2,4],"labelExpr":"datum.value<0?'-'+(-datum.value):''+datum.value"}},
    "y":{"field":"y","type":"quantitative","scale":{"domain":[-5.4,5.4],"nice":false,"zero":false},"axis":{"title":"K9ac: 1182 p < .05; 0 FDR < .1","titleFontSize":14,"values":[-4,-2,0,2,4],"labelExpr":"datum.value==-2?'':datum.value<0?'-'+(-datum.value):''+datum.value"}}},
   "layer":[
    {"data":{"name":"cloud"},"transform":[{"filter":"datum.s>1 && datum.w==0"}],"mark":{"type":"circle","color":"#3f88c5","opacity":0.15,"clip":true},"encoding":{"size":{"field":"s","type":"quantitative","scale":{"type":"pow","exponent":2,"domain":[1,8],"range":[60,2200]},"legend":null}}},
    {"data":{"name":"cloud"},"transform":[{"filter":"datum.s==1"}],"mark":{"type":"circle","color":"#08306b","opacity":0.55},"encoding":{"size":{"field":"s","type":"quantitative","scale":{"type":"pow","exponent":2,"domain":[1,8],"range":[60,2200]},"legend":null}}},
    {"data":{"name":"pts"},"transform":[{"filter":"datum.p==2"}],"mark":{"type":"circle","size":22,"opacity":1},"encoding":{"color":{"field":"c","type":"nominal","scale":{"domain":["N","R","K4","K9","B"],"range":["#377EB8","#4DAF4A","#984EA3","#FF7F00","#E41A1C"]}}}}
   ]},
  {"data":{"values":[{}]},"mark":{"type":"rule","color":"#000","strokeWidth":2.5},"encoding":{"x":{"datum":0}}},
  {"data":{"values":[{}]},"mark":{"type":"rule","color":"#000","strokeWidth":2.5},"encoding":{"y":{"datum":0}}}
  ]},
 {"width":240,"height":162,"title":{"text":"K9ac v K4me3","fontSize":27,"font":"Lato","fontWeight":"normal","color":"#111","offset":3},
  "layer":[
  {"encoding":{
    "x":{"field":"x","type":"quantitative","scale":{"domain":[-5.43,5.43],"nice":false,"zero":false},"axis":{"title":"K4me3: 547 p < .05; 6 FDR < .1","titleFontSize":14,"values":[-4,-2,0,2,4],"labelExpr":"datum.value<0?'-'+(-datum.value):''+datum.value"}},
    "y":{"field":"y","type":"quantitative","scale":{"domain":[-5.4,5.4],"nice":false,"zero":false},"axis":{"title":"K9ac: 1182 p < .05; 0 FDR < .1","titleFontSize":14,"values":[-4,-2,0,2,4],"labelExpr":"datum.value==-2?'':datum.value<0?'-'+(-datum.value):''+datum.value"}}},
   "layer":[
    {"data":{"name":"cloud"},"transform":[{"filter":"datum.s>1"}],"mark":{"type":"circle","color":"#3f88c5","opacity":0.15,"clip":true},"encoding":{"size":{"field":"s","type":"quantitative","scale":{"type":"pow","exponent":2,"domain":[1,8],"range":[60,2200]},"legend":null}}},
    {"data":{"name":"cloud"},"transform":[{"filter":"datum.s==1"}],"mark":{"type":"circle","color":"#08306b","opacity":0.55},"encoding":{"size":{"field":"s","type":"quantitative","scale":{"type":"pow","exponent":2,"domain":[1,8],"range":[60,2200]},"legend":null}}},
    {"data":{"name":"pts"},"transform":[{"filter":"datum.p==3"}],"mark":{"type":"circle","size":22,"opacity":1},"encoding":{"color":{"field":"c","type":"nominal","scale":{"domain":["N","R","K4","K9","B"],"range":["#377EB8","#4DAF4A","#984EA3","#FF7F00","#E41A1C"]}}}}
   ]},
  {"data":{"values":[{}]},"mark":{"type":"rule","color":"#000","strokeWidth":2.5},"encoding":{"x":{"datum":0}}},
  {"data":{"values":[{}]},"mark":{"type":"rule","color":"#000","strokeWidth":2.5},"encoding":{"y":{"datum":0}}}
  ]}
 ]},
{"bounds":"flush","spacing":105,
 "title":{"text":"fca","orient":"left","fontSize":30,"font":"Liberation Sans","fontWeight":"normal","color":"#111","offset":8,"anchor":"middle"},
 "hconcat":[
 {"width":240,"height":162,
  "layer":[
  {"encoding":{
    "x":{"field":"x","type":"quantitative","scale":{"domain":[-5.43,5.43],"nice":false,"zero":false},"axis":{"title":"RNA: 293 p < .05; 1 FDR < .1","titleFontSize":14,"values":[-4,-2,0,2,4],"labelExpr":"datum.value<0?'-'+(-datum.value):''+datum.value"}},
    "y":{"field":"y","type":"quantitative","scale":{"domain":[-5.4,5.4],"nice":false,"zero":false},"axis":{"title":"K4me3: 473 p < .05; 0 FDR < .1","titleFontSize":14,"values":[-4,-2,0,2,4],"labelExpr":"datum.value==-2?'':datum.value<0?'-'+(-datum.value):''+datum.value"}}},
   "layer":[
    {"data":{"name":"cloud"},"transform":[{"filter":"datum.s>1 && datum.w==0"}],"mark":{"type":"circle","color":"#3f88c5","opacity":0.15,"clip":true},"encoding":{"size":{"field":"s","type":"quantitative","scale":{"type":"pow","exponent":2,"domain":[1,8],"range":[60,2200]},"legend":null}}},
    {"data":{"name":"cloud"},"transform":[{"filter":"datum.s==1"}],"mark":{"type":"circle","color":"#08306b","opacity":0.55},"encoding":{"size":{"field":"s","type":"quantitative","scale":{"type":"pow","exponent":2,"domain":[1,8],"range":[60,2200]},"legend":null}}},
    {"data":{"name":"pts"},"transform":[{"filter":"datum.p==4"}],"mark":{"type":"circle","size":22,"opacity":1},"encoding":{"color":{"field":"c","type":"nominal","scale":{"domain":["N","R","K4","K9","B"],"range":["#377EB8","#4DAF4A","#984EA3","#FF7F00","#E41A1C"]}}}}
   ]},
  {"data":{"values":[{}]},"mark":{"type":"rule","color":"#000","strokeWidth":2.5},"encoding":{"x":{"datum":0}}},
  {"data":{"values":[{}]},"mark":{"type":"rule","color":"#000","strokeWidth":2.5},"encoding":{"y":{"datum":0}}}
  ]},
 {"width":240,"height":162,
  "layer":[
  {"encoding":{
    "x":{"field":"x","type":"quantitative","scale":{"domain":[-5.43,5.43],"nice":false,"zero":false},"axis":{"title":"RNA: 293 p < .05; 1 FDR < .1","titleFontSize":14,"values":[-4,-2,0,2,4],"labelExpr":"datum.value<0?'-'+(-datum.value):''+datum.value"}},
    "y":{"field":"y","type":"quantitative","scale":{"domain":[-5.4,5.4],"nice":false,"zero":false},"axis":{"title":"K9ac: 1162 p < .05; 0 FDR < .1","titleFontSize":14,"values":[-4,-2,0,2,4],"labelExpr":"datum.value==-2?'':datum.value<0?'-'+(-datum.value):''+datum.value"}}},
   "layer":[
    {"data":{"name":"cloud"},"transform":[{"filter":"datum.s>1 && datum.w==0"}],"mark":{"type":"circle","color":"#3f88c5","opacity":0.15,"clip":true},"encoding":{"size":{"field":"s","type":"quantitative","scale":{"type":"pow","exponent":2,"domain":[1,8],"range":[60,2200]},"legend":null}}},
    {"data":{"name":"cloud"},"transform":[{"filter":"datum.s==1"}],"mark":{"type":"circle","color":"#08306b","opacity":0.55},"encoding":{"size":{"field":"s","type":"quantitative","scale":{"type":"pow","exponent":2,"domain":[1,8],"range":[60,2200]},"legend":null}}},
    {"data":{"name":"pts"},"transform":[{"filter":"datum.p==5"}],"mark":{"type":"circle","size":22,"opacity":1},"encoding":{"color":{"field":"c","type":"nominal","scale":{"domain":["N","R","K4","K9","B"],"range":["#377EB8","#4DAF4A","#984EA3","#FF7F00","#E41A1C"]}}}}
   ]},
  {"data":{"values":[{}]},"mark":{"type":"rule","color":"#000","strokeWidth":2.5},"encoding":{"x":{"datum":0}}},
  {"data":{"values":[{}]},"mark":{"type":"rule","color":"#000","strokeWidth":2.5},"encoding":{"y":{"datum":0}}}
  ]},
 {"width":240,"height":162,
  "layer":[
  {"encoding":{
    "x":{"field":"x","type":"quantitative","scale":{"domain":[-5.43,5.43],"nice":false,"zero":false},"axis":{"title":"K4me3: 473 p < .05; 0 FDR < .1","titleFontSize":14,"values":[-4,-2,0,2,4],"labelExpr":"datum.value<0?'-'+(-datum.value):''+datum.value"}},
    "y":{"field":"y","type":"quantitative","scale":{"domain":[-5.4,5.4],"nice":false,"zero":false},"axis":{"title":"K9ac: 1162 p < .05; 0 FDR < .1","titleFontSize":14,"values":[-4,-2,0,2,4],"labelExpr":"datum.value==-2?'':datum.value<0?'-'+(-datum.value):''+datum.value"}}},
   "layer":[
    {"data":{"name":"cloud"},"transform":[{"filter":"datum.s>1"}],"mark":{"type":"circle","color":"#3f88c5","opacity":0.15,"clip":true},"encoding":{"size":{"field":"s","type":"quantitative","scale":{"type":"pow","exponent":2,"domain":[1,8],"range":[60,2200]},"legend":null}}},
    {"data":{"name":"cloud"},"transform":[{"filter":"datum.s==1"}],"mark":{"type":"circle","color":"#08306b","opacity":0.55},"encoding":{"size":{"field":"s","type":"quantitative","scale":{"type":"pow","exponent":2,"domain":[1,8],"range":[60,2200]},"legend":null}}},
    {"data":{"name":"pts"},"transform":[{"filter":"datum.p==6"}],"mark":{"type":"circle","size":22,"opacity":1},"encoding":{"color":{"field":"c","type":"nominal","scale":{"domain":["N","R","K4","K9","B"],"range":["#377EB8","#4DAF4A","#984EA3","#FF7F00","#E41A1C"]}}}}
   ]},
  {"data":{"values":[{}]},"mark":{"type":"rule","color":"#000","strokeWidth":2.5},"encoding":{"x":{"datum":0}}},
  {"data":{"values":[{}]},"mark":{"type":"rule","color":"#000","strokeWidth":2.5},"encoding":{"y":{"datum":0}}}
  ]}
 ]},
{"bounds":"flush","spacing":105,
 "title":{"text":"fish oil","orient":"left","fontSize":30,"font":"Liberation Sans","fontWeight":"normal","color":"#111","offset":8,"anchor":"middle"},
 "hconcat":[
 {"width":240,"height":162,
  "layer":[
  {"encoding":{
    "x":{"field":"x","type":"quantitative","scale":{"domain":[-5.43,5.43],"nice":false,"zero":false},"axis":{"title":"RNA: 127 FDR < .1","titleFontSize":20,"titlePadding":13,"values":[-4,-2,0,2,4],"labelExpr":"datum.value<0?'-'+(-datum.value):''+datum.value"}},
    "y":{"field":"y","type":"quantitative","scale":{"domain":[-5.4,5.4],"nice":false,"zero":false},"axis":{"title":"K4me3: 2 FDR < .1","titleFontSize":20,"values":[-4,-2,0,2,4],"labelExpr":"datum.value==-2?'':datum.value<0?'-'+(-datum.value):''+datum.value"}}},
   "layer":[
    {"data":{"name":"cloud"},"transform":[{"filter":"datum.s>1 && datum.w==0"}],"mark":{"type":"circle","color":"#3f88c5","opacity":0.15,"clip":true},"encoding":{"size":{"field":"s","type":"quantitative","scale":{"type":"pow","exponent":2,"domain":[1,8],"range":[60,2200]},"legend":null}}},
    {"data":{"name":"cloud"},"transform":[{"filter":"datum.s==1"}],"mark":{"type":"circle","color":"#08306b","opacity":0.55},"encoding":{"size":{"field":"s","type":"quantitative","scale":{"type":"pow","exponent":2,"domain":[1,8],"range":[60,2200]},"legend":null}}},
    {"data":{"name":"pts"},"transform":[{"filter":"datum.p==7"}],"mark":{"type":"circle","size":22,"opacity":1},"encoding":{"color":{"field":"c","type":"nominal","scale":{"domain":["N","R","K4","K9","B"],"range":["#377EB8","#4DAF4A","#984EA3","#FF7F00","#E41A1C"]}}}}
   ]},
  {"data":{"values":[{}]},"mark":{"type":"rule","color":"#000","strokeWidth":2.5},"encoding":{"x":{"datum":0}}},
  {"data":{"values":[{}]},"mark":{"type":"rule","color":"#000","strokeWidth":2.5},"encoding":{"y":{"datum":0}}}
  ]},
 {"width":240,"height":162,
  "layer":[
  {"encoding":{
    "x":{"field":"x","type":"quantitative","scale":{"domain":[-5.43,5.43],"nice":false,"zero":false},"axis":{"title":"RNA: 127 FDR < .1","titleFontSize":20,"titlePadding":13,"values":[-4,-2,0,2,4],"labelExpr":"datum.value<0?'-'+(-datum.value):''+datum.value"}},
    "y":{"field":"y","type":"quantitative","scale":{"domain":[-5.4,5.4],"nice":false,"zero":false},"axis":{"title":"K9ac: 28 FDR < .1","titleFontSize":20,"values":[-4,-2,0,2,4],"labelExpr":"datum.value==-2?'':datum.value<0?'-'+(-datum.value):''+datum.value"}}},
   "layer":[
    {"data":{"name":"cloud"},"transform":[{"filter":"datum.s>1 && datum.w==0"}],"mark":{"type":"circle","color":"#3f88c5","opacity":0.15,"clip":true},"encoding":{"size":{"field":"s","type":"quantitative","scale":{"type":"pow","exponent":2,"domain":[1,8],"range":[60,2200]},"legend":null}}},
    {"data":{"name":"cloud"},"transform":[{"filter":"datum.s==1"}],"mark":{"type":"circle","color":"#08306b","opacity":0.55},"encoding":{"size":{"field":"s","type":"quantitative","scale":{"type":"pow","exponent":2,"domain":[1,8],"range":[60,2200]},"legend":null}}},
    {"data":{"name":"pts"},"transform":[{"filter":"datum.p==8"}],"mark":{"type":"circle","size":22,"opacity":1},"encoding":{"color":{"field":"c","type":"nominal","scale":{"domain":["N","R","K4","K9","B"],"range":["#377EB8","#4DAF4A","#984EA3","#FF7F00","#E41A1C"]}}}}
   ]},
  {"data":{"values":[{}]},"mark":{"type":"rule","color":"#000","strokeWidth":2.5},"encoding":{"x":{"datum":0}}},
  {"data":{"values":[{}]},"mark":{"type":"rule","color":"#000","strokeWidth":2.5},"encoding":{"y":{"datum":0}}}
  ]},
 {"width":240,"height":162,
  "layer":[
  {"encoding":{
    "x":{"field":"x","type":"quantitative","scale":{"domain":[-5.43,5.43],"nice":false,"zero":false},"axis":{"title":"K4me3: 2 FDR < .1","titleFontSize":20,"titlePadding":13,"values":[-4,-2,0,2,4],"labelExpr":"datum.value<0?'-'+(-datum.value):''+datum.value"}},
    "y":{"field":"y","type":"quantitative","scale":{"domain":[-5.4,5.4],"nice":false,"zero":false},"axis":{"title":"K9ac: 28 FDR < .1","titleFontSize":20,"values":[-4,-2,0,2,4],"labelExpr":"datum.value==-2?'':datum.value<0?'-'+(-datum.value):''+datum.value"}}},
   "layer":[
    {"data":{"name":"cloud"},"transform":[{"filter":"datum.s>1"}],"mark":{"type":"circle","color":"#3f88c5","opacity":0.15,"clip":true},"encoding":{"size":{"field":"s","type":"quantitative","scale":{"type":"pow","exponent":2,"domain":[1,8],"range":[60,2200]},"legend":null}}},
    {"data":{"name":"cloud"},"transform":[{"filter":"datum.s==1"}],"mark":{"type":"circle","color":"#08306b","opacity":0.55},"encoding":{"size":{"field":"s","type":"quantitative","scale":{"type":"pow","exponent":2,"domain":[1,8],"range":[60,2200]},"legend":null}}},
    {"data":{"name":"pts"},"transform":[{"filter":"datum.p==9"}],"mark":{"type":"circle","size":22,"opacity":1},"encoding":{"color":{"field":"c","type":"nominal","scale":{"domain":["N","R","K4","K9","B"],"range":["#377EB8","#4DAF4A","#984EA3","#FF7F00","#E41A1C"]}}}}
   ]},
  {"data":{"values":[{}]},"mark":{"type":"rule","color":"#000","strokeWidth":2.5},"encoding":{"x":{"datum":0}}},
  {"data":{"values":[{}]},"mark":{"type":"rule","color":"#000","strokeWidth":2.5},"encoding":{"y":{"datum":0}}}
  ]}
 ]}
],
"config":{
 "view":{"stroke":"#111","strokeWidth":1.5},
 "axis":{"domain":false,"grid":false,"tickColor":"#222","tickSize":8,"tickWidth":1.2,"labelFont":"Liberation Sans","labelFontSize":21,"labelColor":"#222","titleFont":"Liberation Sans","titleFontWeight":"normal","titleColor":"#222"},
 "axisX":{"labelPadding":6,"titlePadding":19,"labelAngle":0},
 "axisY":{"labelAngle":270,"labelAlign":"center","labelBaseline":"bottom","labelPadding":10,"titlePadding":14}
}
}
